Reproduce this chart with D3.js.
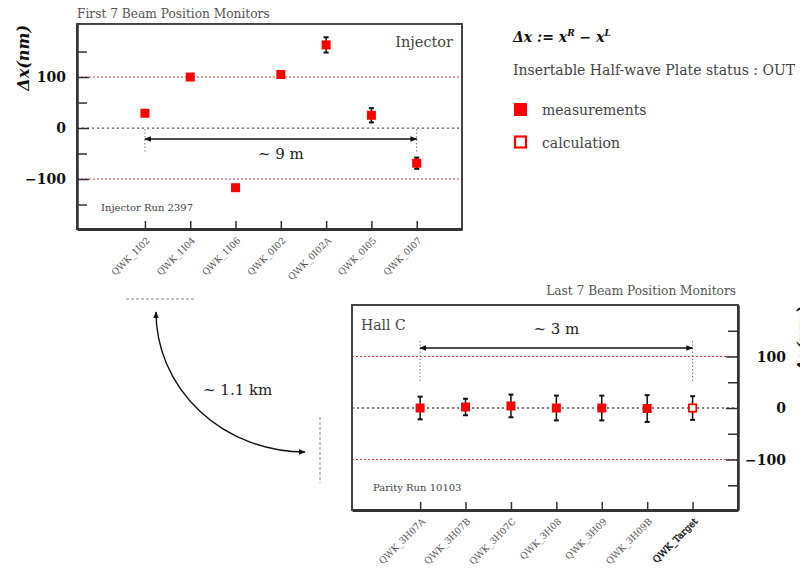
<!DOCTYPE html>
<html><head><meta charset="utf-8">
<script src="https://cdn.jsdelivr.net/npm/d3@7"></script>
<style>
body{margin:0;background:#fff;}
svg text{font-family:"DejaVu Serif",serif;}
</style></head><body>
<svg id="c" width="800" height="568"></svg>
<script>
// Injector region beam position monitors
const injectorMonitors = ["QWK_1I02","QWK_1I04","QWK_1I06","QWK_0I02","QWK_0I02A","QWK_0I05","QWK_0I07"];
const injectorDx  = [29, 100, -117, 105, 163, 25, -69];
const injectorErr = [4, 4, 5, 5, 15, 14, 11];

// Hall C beam position monitors plus the projection to the target
const hallMonitors = ["QWK_3H07A","QWK_3H07B","QWK_3H07C","QWK_3H08","QWK_3H09","QWK_3H09B","QWK_Target"];
const hallDx  = [0, 2, 4, 0, 0, -1, 0];
const hallErr = [22, 16, 22, 24, 24, 26, 23];
const hallKind = ["measured","measured","measured","measured","measured","measured","calculated"];

const majorTicks = [-100, 0, 100];
const minorTicks = [-150, -50, 50, 150];
const limitLines = [-100, 100];

const svg = d3.select("#c");
const defs = svg.append("defs");
defs.append("marker").attr("id","ah").attr("viewBox","0 0 10 10")
  .attr("refX",9).attr("refY",5).attr("markerWidth",7).attr("markerHeight",7)
  .attr("orient","auto-start-reverse").attr("markerUnits","userSpaceOnUse")
  .append("path").attr("d","M0,1 L10,5 L0,9 Z").attr("fill","#111");

const fmt = d => d < 0 ? "\u2212" + Math.abs(d) : String(d);

function panel(o) {
  const g = svg.append("g");
  const x = d3.scaleLinear().domain([-1.5, 7]).range([o.left, o.right]);
  const y = d3.scaleLinear().domain(o.yDomain).range([o.bottom, o.top]);

  // limit lines and zero line
  g.selectAll(".lim").data(limitLines).join("line")
    .attr("x1", o.left).attr("x2", o.right)
    .attr("y1", d => y(d)).attr("y2", d => y(d))
    .attr("stroke", "#d04040").attr("stroke-width", 1).attr("stroke-dasharray", "2,2");
  g.append("line").attr("x1", o.left).attr("x2", o.right)
    .attr("y1", y(0)).attr("y2", y(0))
    .attr("stroke", "#555").attr("stroke-width", 1.3).attr("stroke-dasharray", "2,3");

  // frame
  g.append("rect").attr("x", o.left).attr("y", o.top)
    .attr("width", o.right - o.left).attr("height", o.bottom - o.top)
    .attr("fill", "none").attr("stroke", "#444").attr("stroke-width", 2);

  // y axis (ticks point into the frame)
  const side = o.axisSide;
  const ax = side === "left" ? d3.axisLeft(y) : d3.axisRight(y);
  const yAxis = g.append("g").attr("transform", `translate(${side === "left" ? o.left : o.right},0)`)
    .call(ax.tickValues(majorTicks).tickSizeInner(-12).tickSizeOuter(0).tickPadding(0).tickFormat(fmt));
  yAxis.select(".domain").attr("stroke", "#333").attr("stroke-width", 2.5);
  yAxis.selectAll(".tick line").attr("stroke", "#333").attr("stroke-width", 1.5);
  yAxis.selectAll(".tick text")
    .attr("font-family", "DejaVu Serif").attr("font-weight", "bold").attr("font-size", 14)
    .attr("fill", "#111").attr("text-anchor", "end")
    .attr("x", side === "left" ? -11 : 48).attr("dy", "0.35em");
  const mAx = side === "left" ? d3.axisLeft(y) : d3.axisRight(y);
  const yMinor = g.append("g").attr("transform", `translate(${side === "left" ? o.left : o.right},0)`)
    .call(mAx.tickValues(minorTicks).tickSizeInner(-10).tickSizeOuter(0).tickFormat(""));
  yMinor.select(".domain").remove();
  yMinor.selectAll(".tick line").attr("stroke", "#333").attr("stroke-width", 1.5);

  // x axis with rotated monitor names
  const xAxis = g.append("g").attr("transform", `translate(0,${o.bottom})`)
    .call(d3.axisBottom(x).tickValues(d3.range(o.names.length)).tickSizeInner(-8).tickSizeOuter(0).tickFormat(""));
  xAxis.select(".domain").attr("stroke", "#333").attr("stroke-width", 3);
  xAxis.selectAll(".tick line").attr("stroke", "#333").attr("stroke-width", 1.5);
  xAxis.selectAll(".tick").append("text")
    .text((d) => o.names[d])
    .attr("fill", (d) => o.names[d] === "QWK_Target" ? "#111" : "#555")
    .attr("stroke", (d) => o.names[d] === "QWK_Target" ? "#111" : "none")
    .attr("stroke-width", 0.35)
    .attr("font-size", 9.2).attr("text-anchor", "end")
    .attr("transform", "translate(5,12) rotate(-45)");

  // distance arrow between first and last monitor
  [0, o.names.length - 1].forEach(i => {
    g.append("line").attr("x1", x(i)).attr("x2", x(i))
      .attr("y1", o.dotTop).attr("y2", o.dotBottom)
      .attr("stroke", "#777").attr("stroke-width", 1).attr("stroke-dasharray", "1.5,2");
  });
  g.append("line").attr("x1", x(0)).attr("x2", x(o.names.length - 1))
    .attr("y1", o.arrowY).attr("y2", o.arrowY)
    .attr("stroke", "#111").attr("stroke-width", 1.4)
    .attr("marker-start", "url(#ah)").attr("marker-end", "url(#ah)");
  g.append("text").attr("x", (x(0) + x(o.names.length - 1)) / 2).attr("y", o.distY)
    .attr("text-anchor", "middle").attr("font-size", 15).attr("fill", "#222").text(o.distText);

  // error bars
  const pts = o.values.map((v, i) => ({ i, v, e: o.errs[i], k: o.kinds ? o.kinds[i] : "measured" }));
  const eb = g.selectAll(".eb").data(pts).join("g");
  eb.append("line").attr("x1", d => x(d.i)).attr("x2", d => x(d.i))
    .attr("y1", d => y(d.v - d.e)).attr("y2", d => y(d.v + d.e))
    .attr("stroke", "#111").attr("stroke-width", 1.5);
  [-1, 1].forEach(s => {
    eb.append("line").attr("x1", d => x(d.i) - 2.5).attr("x2", d => x(d.i) + 2.5)
      .attr("y1", d => y(d.v + s * d.e)).attr("y2", d => y(d.v + s * d.e))
      .attr("stroke", "#111").attr("stroke-width", 2);
  });

  // markers
  g.selectAll(".mk").data(pts).join("rect")
    .attr("x", d => x(d.i) - (d.k === "measured" ? 4.5 : 3.7))
    .attr("y", d => y(d.v) - (d.k === "measured" ? 4.5 : 3.7))
    .attr("width", d => d.k === "measured" ? 9 : 7.4)
    .attr("height", d => d.k === "measured" ? 9 : 7.4)
    .attr("fill", d => d.k === "measured" ? "#ff0000" : "#fff")
    .attr("stroke", d => d.k === "measured" ? "none" : "#ff0000")
    .attr("stroke-width", 1.8);

  // axis title
  g.append("text")
    .attr("transform", `translate(${o.titleX},${o.top + 1}) rotate(-90)`)
    .attr("text-anchor", "end").attr("font-size", 16).attr("font-weight", "bold")
    .attr("font-style", "italic").attr("fill", "#111").text("\u0394x(nm)");

  return { g, x, y };
}

// Injector panel
panel({
  left: 77, right: 462, top: 24, bottom: 229, yDomain: [-198, 204], axisSide: "left",
  names: injectorMonitors, values: injectorDx, errs: injectorErr,
  dotTop: 129, dotBottom: 153, arrowY: 139, distY: 159, distText: "~ 9 m", titleX: 29
});
svg.append("text").attr("x", 77).attr("y", 18).attr("font-size", 12.2).attr("fill", "#555")
  .text("First 7 Beam Position Monitors");
svg.append("text").attr("x", 453).attr("y", 47).attr("text-anchor", "end")
  .attr("font-size", 14.5).attr("fill", "#444").text("Injector");
svg.append("text").attr("x", 101).attr("y", 211).attr("font-size", 10).attr("fill", "#444")
  .text("Injector Run 2397");

// Hall C panel
panel({
  left: 352, right: 738, top: 305, bottom: 510, yDomain: [-198, 200], axisSide: "right",
  names: hallMonitors, values: hallDx, errs: hallErr, kinds: hallKind,
  dotTop: 341, dotBottom: 382, arrowY: 348, distY: 334, distText: "~ 3 m", titleX: 809
});
svg.append("text").attr("x", 736).attr("y", 295).attr("text-anchor", "end")
  .attr("font-size", 12.2).attr("fill", "#555").text("Last 7 Beam Position Monitors");
svg.append("text").attr("x", 361).attr("y", 330).attr("font-size", 14).attr("fill", "#444")
  .text("Hall C");
svg.append("text").attr("x", 373).attr("y", 491).attr("font-size", 10).attr("fill", "#444")
  .text("Parity Run 10103");

// beamline link between the two regions
svg.append("line").attr("x1", 126).attr("x2", 195).attr("y1", 299).attr("y2", 299)
  .attr("stroke", "#888").attr("stroke-width", 1).attr("stroke-dasharray", "3,2");
svg.append("line").attr("x1", 320).attr("x2", 320).attr("y1", 417).attr("y2", 483)
  .attr("stroke", "#888").attr("stroke-width", 1).attr("stroke-dasharray", "3,2");
svg.append("path").attr("d", "M156,312 A149,140 0 0 0 305,452")
  .attr("fill", "none").attr("stroke", "#111").attr("stroke-width", 1.4)
  .attr("marker-start", "url(#ah)").attr("marker-end", "url(#ah)");
svg.append("text").attr("x", 203).attr("y", 395).attr("font-size", 15).attr("fill", "#222")
  .text("~ 1.1 km");

// legend
const lg = svg.append("g");
const eq = lg.append("text").attr("x", 513).attr("y", 42).attr("font-size", 14)
  .attr("font-weight", "bold").attr("font-style", "italic").attr("fill", "#111");
eq.append("tspan").text("\u0394x := x");
eq.append("tspan").attr("font-size", 9).attr("dy", -6).text("R");
eq.append("tspan").attr("dy", 6).text(" \u2212 x");
eq.append("tspan").attr("font-size", 9).attr("dy", -6).text("L");
lg.append("text").attr("x", 513).attr("y", 75).attr("font-size", 14).attr("fill", "#444")
  .text("Insertable Half-wave Plate status : OUT");
lg.append("rect").attr("x", 514).attr("y", 103).attr("width", 13).attr("height", 13).attr("fill", "#ff0000");
lg.append("text").attr("x", 542).attr("y", 115).attr("font-size", 14).attr("fill", "#444").text("measurements");
lg.append("rect").attr("x", 515).attr("y", 136.5).attr("width", 11).attr("height", 11)
  .attr("fill", "#fff").attr("stroke", "#ff0000").attr("stroke-width", 2.2);
lg.append("text").attr("x", 542).attr("y", 148).attr("font-size", 14).attr("fill", "#444").text("calculation");
</script>
</body></html>
